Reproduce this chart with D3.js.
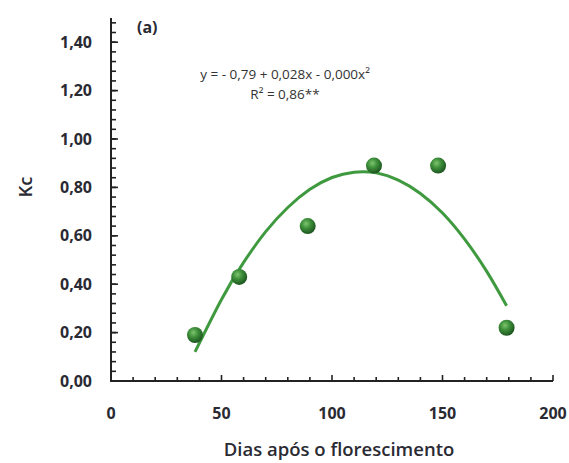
<!DOCTYPE html>
<html>
<head>
<meta charset="utf-8">
<script src="https://d3js.org/d3.v7.min.js"></script>
<style>
  body { margin: 0; background: #fff; }
  .tick-label { font-family: "Open Sans", sans-serif; font-weight: 700; font-size: 16px; fill: #2a2a33; }
  .panel { font-family: "Open Sans", sans-serif; font-weight: 700; font-size: 16px; fill: #2a2a33; }
  .title { font-family: "Open Sans", sans-serif; font-weight: 600; font-size: 18.5px; fill: #2a2a33; }
  .eq { font-family: "Open Sans", sans-serif; font-size: 13.5px; fill: #333; }
</style>
</head>
<body>
<svg id="chart" width="569" height="463"></svg>
<script>
// measured points (Kc vs days after flowering)
const days = [38, 58, 89, 119, 148, 179];
const kc = [0.19, 0.43, 0.64, 0.89, 0.89, 0.22];

// fitted curve
const curveDays = [38, 50, 60, 70, 80, 90, 100, 110, 120, 130, 140, 150, 160, 170, 179];
const curveKc = [0.12, 0.337, 0.49, 0.617, 0.717, 0.792, 0.841, 0.863, 0.86, 0.83, 0.775, 0.694, 0.586, 0.453, 0.311];

const xTickVals = [0, 50, 100, 150, 200];
const yTickVals = [0, 0.2, 0.4, 0.6, 0.8, 1.0, 1.2, 1.4];

const svg = d3.select("#chart");
const x = d3.scaleLinear().domain([0, 200]).range([111, 553]);
const y = d3.scaleLinear().domain([0, 1.5]).range([381, 18]);

const fmt = d => d.toFixed(2).replace(".", ",");

// gradient for the ball markers
const defs = svg.append("defs");
const grad = defs.append("radialGradient").attr("id", "ball")
  .attr("cx", "40%").attr("cy", "35%").attr("r", "65%");
grad.append("stop").attr("offset", "0%").attr("stop-color", "#7fc46f");
grad.append("stop").attr("offset", "45%").attr("stop-color", "#3d8f3a");
grad.append("stop").attr("offset", "100%").attr("stop-color", "#1e5520");

const axisColor = "#222";

// y axis line + ticks (pointing inward)
svg.append("line").attr("x1", x(0)).attr("x2", x(0))
  .attr("y1", y(0)).attr("y2", y(1.5))
  .attr("stroke", axisColor).attr("stroke-width", 2);
const yMinor = d3.range(0, 38).map(i => i * 0.04).filter(v => v > 0);
svg.selectAll(".ym").data(yMinor).enter().append("line")
  .attr("x1", x(0)).attr("x2", x(0) + 5)
  .attr("y1", d => y(d)).attr("y2", d => y(d))
  .attr("stroke", axisColor).attr("stroke-width", 1.6);
svg.selectAll(".yM").data(yTickVals.filter(v => v > 0)).enter().append("line")
  .attr("x1", x(0)).attr("x2", x(0) + 7)
  .attr("y1", d => y(d)).attr("y2", d => y(d))
  .attr("stroke", axisColor).attr("stroke-width", 1.6);
svg.selectAll(".ylab").data(yTickVals).enter().append("text")
  .attr("class", "tick-label")
  .attr("x", 92).attr("y", d => y(d) + 5.5)
  .attr("text-anchor", "end")
  .text(fmt);

// x axis line + ticks (pointing up)
svg.append("line").attr("x1", x(0) - 1).attr("x2", x(200))
  .attr("y1", y(0)).attr("y2", y(0))
  .attr("stroke", axisColor).attr("stroke-width", 2);
svg.selectAll(".xm").data(d3.range(10, 201, 10)).enter().append("line")
  .attr("x1", d => x(d)).attr("x2", d => x(d))
  .attr("y1", y(0)).attr("y2", d => y(0) - (d % 50 === 0 ? 6 : 4))
  .attr("stroke", axisColor).attr("stroke-width", 1.6);
svg.selectAll(".xlab").data(xTickVals).enter().append("text")
  .attr("class", "tick-label")
  .attr("x", d => x(d)).attr("y", 419)
  .attr("text-anchor", "middle")
  .text(d => d);

// axis titles
svg.append("text").attr("class", "title")
  .attr("x", 339).attr("y", 456).attr("text-anchor", "middle")
  .text("Dias após o florescimento");
svg.append("text").attr("class", "title")
  .attr("transform", "translate(32,187) rotate(-90)")
  .attr("text-anchor", "middle")
  .text("Kc");

// panel letter and equation
svg.append("text").attr("class", "panel")
  .attr("x", 137).attr("y", 33).text("(a)");
svg.append("text").attr("class", "eq")
  .attr("x", 285).attr("y", 79).attr("text-anchor", "middle")
  .text("y = - 0,79 + 0,028x - 0,000x²");
svg.append("text").attr("class", "eq")
  .attr("x", 285).attr("y", 99).attr("text-anchor", "middle")
  .text("R² = 0,86**");

// regression curve
const line = d3.line().x(d => x(d[0])).y(d => y(d[1])).curve(d3.curveNatural);
svg.append("path")
  .datum(curveDays.map((d, i) => [d, curveKc[i]]))
  .attr("d", line)
  .attr("fill", "none").attr("stroke", "#3f9a3f").attr("stroke-width", 3);

// points
svg.selectAll(".pt").data(days.map((d, i) => [d, kc[i]])).enter().append("circle")
  .attr("cx", d => x(d[0])).attr("cy", d => y(d[1]))
  .attr("r", 8).attr("fill", "url(#ball)");
</script>
</body>
</html>
